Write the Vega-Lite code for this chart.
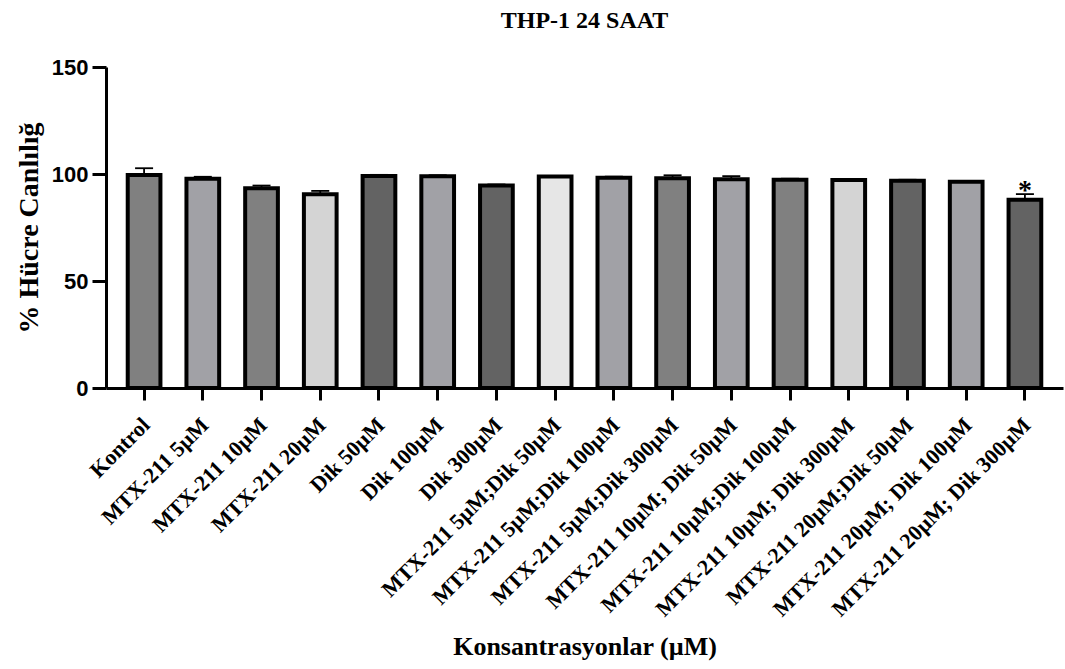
{
  "$schema": "https://vega.github.io/schema/vega-lite/v6.json",
  "width": 957,
  "height": 321,
  "autosize": {"type": "none"},
  "padding": {"left": 106, "top": 67, "right": 2, "bottom": 281},
  "background": "white",
  "title": {"text": "THP-1 24 SAAT", "font": "Liberation Serif", "fontSize": 24, "fontWeight": "bold", "color": "black", "anchor": "middle", "offset": 23},
  "data": {
    "values": [
      {"grup": "Kontrol", "ortalama": 99.5, "ust": 102.7, "isaret": ""},
      {"grup": "MTX-211 5µM", "ortalama": 97.8, "ust": 98.7, "isaret": ""},
      {"grup": "MTX-211 10µM", "ortalama": 93.3, "ust": 94.6, "isaret": ""},
      {"grup": "MTX-211 20µM", "ortalama": 90.5, "ust": 92.1, "isaret": ""},
      {"grup": "Dik 50µM", "ortalama": 99.1, "ust": 99.6, "isaret": ""},
      {"grup": "Dik 100µM", "ortalama": 99.0, "ust": 99.4, "isaret": ""},
      {"grup": "Dik 300µM", "ortalama": 94.6, "ust": 95.1, "isaret": ""},
      {"grup": "MTX-211 5µM;Dik 50µM", "ortalama": 98.8, "ust": 99.1, "isaret": ""},
      {"grup": "MTX-211 5µM;Dik 100µM", "ortalama": 98.3, "ust": 98.8, "isaret": ""},
      {"grup": "MTX-211 5µM;Dik 300µM", "ortalama": 98.0, "ust": 99.4, "isaret": ""},
      {"grup": "MTX-211 10µM; Dik 50µM", "ortalama": 97.6, "ust": 99.0, "isaret": ""},
      {"grup": "MTX-211 10µM;Dik 100µM", "ortalama": 97.3, "ust": 97.8, "isaret": ""},
      {"grup": "MTX-211 10µM; Dik 300µM", "ortalama": 97.2, "ust": 97.5, "isaret": ""},
      {"grup": "MTX-211 20µM;Dik 50µM", "ortalama": 96.8, "ust": 97.3, "isaret": ""},
      {"grup": "MTX-211 20µM; Dik 100µM", "ortalama": 96.4, "ust": 96.7, "isaret": ""},
      {"grup": "MTX-211 20µM; Dik 300µM", "ortalama": 88.0, "ust": 90.6, "isaret": "*"}
    ]
  },
  "encoding": {
    "x": {
      "field": "grup",
      "type": "nominal",
      "sort": null,
      "title": "Konsantrasyonlar (µM)",
      "scale": {"paddingInner": 0.443, "paddingOuter": 0.37},
      "axis": {
        "labelAngle": -45,
        "labelFont": "Liberation Serif",
        "labelFontWeight": "bold",
        "labelFontSize": 22,
        "labelColor": "black",
        "labelLimit": 0,
        "labelPadding": 14,
        "labelOffset": -5,
        "tickSize": 12,
        "tickWidth": 3,
        "tickColor": "black",
        "domainWidth": 3,
        "domainColor": "black",
        "titleFont": "Liberation Serif",
        "titleFontSize": 26,
        "titleFontWeight": "bold",
        "titleColor": "black",
        "titlePadding": 45
      }
    }
  },
  "layer": [
    {
      "mark": {"type": "rule", "color": "black", "strokeWidth": 1.8},
      "encoding": {
        "y": {"field": "ortalama", "type": "quantitative", "title": "% Hücre Canlılığ", "scale": {"domain": [0, 150]}, "axis": {"values": [0, 50, 100, 150]}},
        "y2": {"field": "ust"}
      }
    },
    {
      "mark": {"type": "bar", "stroke": "black", "strokeWidth": 4},
      "encoding": {
        "y": {"field": "ortalama", "type": "quantitative", "title": "% Hücre Canlılığ", "scale": {"domain": [0, 150]}, "axis": {"values": [0, 50, 100, 150]}},
        "color": {
          "field": "grup",
          "type": "nominal",
          "legend": null,
          "scale": {
            "domain": ["Kontrol", "MTX-211 5µM", "MTX-211 10µM", "MTX-211 20µM", "Dik 50µM", "Dik 100µM", "Dik 300µM", "MTX-211 5µM;Dik 50µM", "MTX-211 5µM;Dik 100µM", "MTX-211 5µM;Dik 300µM", "MTX-211 10µM; Dik 50µM", "MTX-211 10µM;Dik 100µM", "MTX-211 10µM; Dik 300µM", "MTX-211 20µM;Dik 50µM", "MTX-211 20µM; Dik 100µM", "MTX-211 20µM; Dik 300µM"],
            "range": ["#808080", "#a1a1a6", "#808080", "#d4d4d4", "#636363", "#a1a1a6", "#636363", "#e6e6e6", "#a1a1a6", "#808080", "#a1a1a6", "#808080", "#d4d4d4", "#636363", "#a1a1a6", "#636363"]
          }
        }
      }
    },
    {
      "mark": {"type": "tick", "color": "black", "thickness": 1.8, "size": 18, "opacity": 1},
      "encoding": {
        "y": {"field": "ust", "type": "quantitative", "title": "% Hücre Canlılığ", "scale": {"domain": [0, 150]}, "axis": {"values": [0, 50, 100, 150]}}
      }
    },
    {
      "mark": {"type": "text", "font": "Liberation Serif", "fontWeight": "bold", "fontSize": 28, "color": "black", "baseline": "alphabetic", "align": "center", "dy": 5},
      "encoding": {
        "y": {"field": "ust", "type": "quantitative", "title": "% Hücre Canlılığ", "scale": {"domain": [0, 150]}, "axis": {"values": [0, 50, 100, 150]}},
        "text": {"field": "isaret"}
      }
    }
  ],
  "config": {
    "view": {"stroke": null},
    "axisY": {
      "grid": false,
      "domainWidth": 3,
      "domainColor": "black",
      "tickWidth": 3,
      "tickSize": 14,
      "tickColor": "black",
      "labelFont": "Liberation Sans",
      "labelFontWeight": "bold",
      "labelFontSize": 22,
      "labelColor": "black",
      "labelPadding": 4,
      "titleFont": "Liberation Serif",
      "titleFontSize": 28,
      "titleFontWeight": "bold",
      "titleColor": "black",
      "titlePadding": 8
    },
    "axisX": {"grid": false}
  }
}
